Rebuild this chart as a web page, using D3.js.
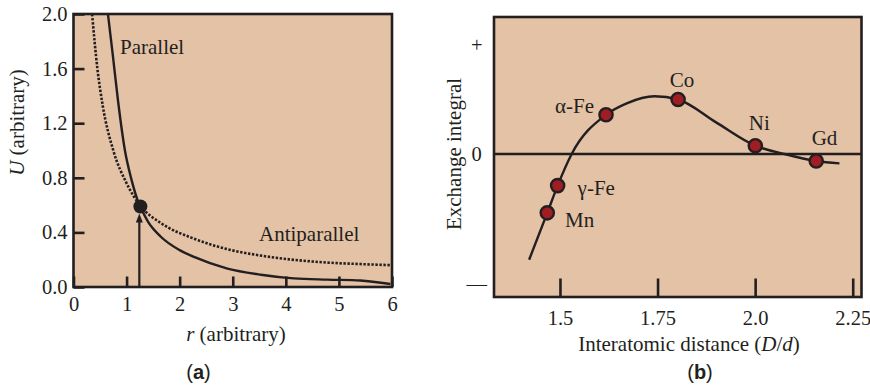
<!DOCTYPE html>
<html><head><meta charset="utf-8">
<script src="https://cdn.jsdelivr.net/npm/d3@7/dist/d3.min.js"></script>
<style>
html,body{margin:0;padding:0;background:#fff;}
svg{display:block;}
text{font-family:"Liberation Serif","Times New Roman",serif;fill:#231f20;}
</style></head>
<body>
<svg id="chart" width="870" height="388"></svg>
<script>
// ---------- Panel (a) data ----------
const aXTicks = [0, 1, 2, 3, 4, 5, 6];
const aYTicks = [0.0, 0.4, 0.8, 1.2, 1.6, 2.0];
const parallelR = [0.649, 0.74, 0.837, 0.969, 1.09, 1.207, 1.27, 1.40, 1.64, 2.00, 2.27, 2.90, 3.53, 4.15, 4.78, 5.40, 5.97];
const parallelU = [2.00, 1.70, 1.37, 1.00, 0.79, 0.637, 0.58, 0.48, 0.37, 0.27, 0.22, 0.135, 0.09, 0.063, 0.054, 0.048, 0.022];
const antiR = [0.35, 0.45, 0.55, 0.75, 1.00, 1.27, 1.64, 2.27, 2.90, 3.53, 4.15, 4.78, 5.40, 6.00];
const antiU = [2.00, 1.60, 1.33, 1.00, 0.76, 0.59, 0.47, 0.354, 0.277, 0.23, 0.199, 0.179, 0.168, 0.16];
const crossing = {r: 1.26, u: 0.59};
const arrowR = 1.24;

// ---------- Panel (b) data ----------
const bXTicks = [1.5, 1.75, 2.0, 2.25];
const bXTickLabels = ["1.5", "1.75", "2.0", "2.25"];
const bYTicks = [1, 0, -1.19];
const bYTickLabels = ["+", "0", "\u2014"];
const elements = ["Mn", "\u03b3-Fe", "\u03b1-Fe", "Co", "Ni", "Gd"];
const elemX = [1.4675, 1.494, 1.618, 1.8026, 2.0005, 2.1565];
const elemY = [-0.54, -0.29, 0.36, 0.50, 0.076, -0.064];
const curveX = [1.421, 1.4675, 1.494, 1.53, 1.618, 1.671, 1.742, 1.8026, 1.90, 2.0005, 2.075, 2.1565, 2.216];
const curveY = [-0.97, -0.54, -0.29, 0.0, 0.36, 0.465, 0.53, 0.50, 0.29, 0.076, 0.0, -0.064, -0.086];

// ---------- styles / layout ----------
const ink = "#231f20";
const panelFill = "#e3c2a5";
const dotFill = "#a11d24";
const svg = d3.select("#chart");

// ===== Panel (a) =====
const ax = d3.scaleLinear().domain([0, 6]).range([73.5, 392]);
const ay = d3.scaleLinear().domain([0, 2]).range([287, 14]);
const gA = svg.append("g");
gA.append("rect").attr("x", ax(0)).attr("y", ay(2)).attr("width", ax(6) - ax(0)).attr("height", ay(0) - ay(2))
  .attr("fill", panelFill);
gA.append("clipPath").attr("id", "clipA").append("rect")
  .attr("x", ax(0)).attr("y", ay(2)).attr("width", ax(6) - ax(0)).attr("height", ay(0) - ay(2));

const lineA = d3.line().x(d => ax(d[0])).y(d => ay(d[1])).curve(d3.curveMonotoneX);
const curves = gA.append("g").attr("clip-path", "url(#clipA)");
curves.append("path").datum(antiR.map((r, i) => [r, antiU[i]])).attr("d", lineA)
  .attr("fill", "none").attr("stroke", ink).attr("stroke-width", 2.6).attr("stroke-dasharray", "2.4,1.6");
curves.append("path").datum(parallelR.map((r, i) => [r, parallelU[i]])).attr("d", lineA)
  .attr("fill", "none").attr("stroke", ink).attr("stroke-width", 2.4);

// arrow
gA.append("line").attr("x1", ax(arrowR)).attr("x2", ax(arrowR)).attr("y1", ay(0)).attr("y2", ay(crossing.u) + 14)
  .attr("stroke", ink).attr("stroke-width", 2.2);
gA.append("path").attr("d", `M${ax(arrowR)},${ay(crossing.u) + 7} l-3.5,9 l7,0 z`).attr("fill", ink);
gA.append("circle").attr("cx", ax(crossing.r)).attr("cy", ay(crossing.u)).attr("r", 7).attr("fill", ink);

// axes (a)
const axisA = gA.append("g");
axisA.append("rect").attr("x", ax(0)).attr("y", ay(2)).attr("width", ax(6) - ax(0)).attr("height", ay(0) - ay(2))
  .attr("fill", "none").attr("stroke", ink).attr("stroke-width", 2.6);
const xAxisA = d3.axisBottom(ax).tickValues(aXTicks).tickSize(-10.5).tickPadding(14).tickFormat(d3.format("d"));
const gxA = axisA.append("g").attr("transform", `translate(0,${ay(0)})`).call(xAxisA);
const yAxisA = d3.axisLeft(ay).tickValues(aYTicks).tickSize(-11).tickPadding(8).tickFormat(d3.format(".1f"));
const gyA = axisA.append("g").attr("transform", `translate(${ax(0)},0)`).call(yAxisA);
[gxA, gyA].forEach(g => {
  g.select(".domain").remove();
  g.selectAll(".tick line").attr("stroke", ink).attr("stroke-width", 2.6);
  g.selectAll(".tick text").attr("font-size", 20.5).attr("font-family", "Liberation Serif").attr("fill", ink);
});
gxA.selectAll(".tick text").attr("dy", "0.71em").attr("y", 9);
gyA.selectAll(".tick text").attr("x", -6);

gA.append("text").attr("x", 120).attr("y", 54).attr("font-size", 21).text("Parallel");
gA.append("text").attr("x", 259).attr("y", 241).attr("font-size", 21).text("Antiparallel");
const rt = gA.append("text").attr("x", 236).attr("y", 340.5).attr("text-anchor", "middle").attr("font-size", 21);
rt.append("tspan").attr("font-style", "italic").text("r");
rt.append("tspan").text(" (arbitrary)");
const ut = gA.append("text").attr("transform", "translate(24,122.5) rotate(-90)").attr("text-anchor", "middle").attr("font-size", 21);
ut.append("tspan").attr("font-style", "italic").text("U");
ut.append("tspan").text(" (arbitrary)");
const la = gA.append("text").attr("x", 198.5).attr("y", 378.5).attr("text-anchor", "middle")
  .attr("font-size", 20).style("font-family", "'Liberation Sans',Arial,sans-serif");
la.append("tspan").text("(");
la.append("tspan").attr("font-weight", "bold").text("a");
la.append("tspan").text(")");

// ===== Panel (b) =====
const bx = d3.scaleLinear().domain([1.331, 2.2725]).range([494, 861.5]);
const by = d3.scaleLinear().domain([-1.312, 1.257]).range([297, 17]);
const gB = svg.append("g");
gB.append("rect").attr("x", bx.range()[0]).attr("y", by.range()[1]).attr("width", bx.range()[1] - bx.range()[0])
  .attr("height", by.range()[0] - by.range()[1]).attr("fill", panelFill);

// zero line
gB.append("line").attr("x1", bx.range()[0]).attr("x2", bx.range()[1]).attr("y1", by(0)).attr("y2", by(0))
  .attr("stroke", ink).attr("stroke-width", 2.6);

const lineB = d3.line().x((d, i) => bx(d)).y((d, i) => by(curveY[i])).curve(d3.curveMonotoneX);
gB.append("path").attr("d", lineB(curveX)).attr("fill", "none").attr("stroke", ink).attr("stroke-width", 2.4);

const labelOffsets = {"Mn": [17.7, 14, "start"], "\u03b3-Fe": [20, 9.7, "start"], "\u03b1-Fe": [-12, -1.7, "end"],
  "Co": [4, -12.7, "middle"], "Ni": [4, -15.7, "middle"], "Gd": [8.3, -15.5, "middle"]};
const pts = gB.append("g");
elements.forEach((name, i) => {
  const cx = bx(elemX[i]), cy = by(elemY[i]);
  pts.append("circle").attr("cx", cx).attr("cy", cy).attr("r", 6.6)
    .attr("fill", dotFill).attr("stroke", ink).attr("stroke-width", 2.4);
  const o = labelOffsets[name];
  pts.append("text").attr("x", cx + o[0]).attr("y", cy + o[1]).attr("text-anchor", o[2])
    .attr("font-size", 21).text(name);
});

// axes (b)
gB.append("rect").attr("x", bx.range()[0]).attr("y", by.range()[1]).attr("width", bx.range()[1] - bx.range()[0])
  .attr("height", by.range()[0] - by.range()[1]).attr("fill", "none").attr("stroke", ink).attr("stroke-width", 2.6);
const xAxisB = d3.axisBottom(bx).tickValues(bXTicks).tickSize(-18.5).tickPadding(0).tickFormat((d, i) => bXTickLabels[i]);
const gxB = gB.append("g").attr("transform", `translate(0,${by.range()[0]})`).call(xAxisB);
gxB.select(".domain").remove();
gxB.selectAll(".tick line").attr("stroke", ink).attr("stroke-width", 2.6);
gxB.selectAll(".tick text").attr("font-size", 20.5).attr("font-family", "Liberation Serif").attr("fill", ink)
  .attr("dy", null).attr("y", 28);

const yAxisB = d3.axisLeft(by).tickValues(bYTicks).tickSize(0).tickPadding(0).tickFormat((d, i) => bYTickLabels[i]);
const gyB = gB.append("g").attr("transform", `translate(${bx.range()[0]},0)`).call(yAxisB);
gyB.select(".domain").remove();
gyB.selectAll(".tick text").attr("font-size", 20.5).attr("font-family", "Liberation Serif").attr("fill", ink)
  .attr("text-anchor", "middle").attr("x", -17.3);

const et = gB.append("text").attr("transform", "translate(461,154) rotate(-90)").attr("text-anchor", "middle")
  .attr("font-size", 21).text("Exchange integral");
const it = gB.append("text").attr("x", 689).attr("y", 351).attr("text-anchor", "middle").attr("font-size", 21);
it.append("tspan").text("Interatomic distance (");
it.append("tspan").attr("font-style", "italic").text("D");
it.append("tspan").text("/");
it.append("tspan").attr("font-style", "italic").text("d");
it.append("tspan").text(")");
const lb = gB.append("text").attr("x", 700).attr("y", 379).attr("text-anchor", "middle")
  .attr("font-size", 20).style("font-family", "'Liberation Sans',Arial,sans-serif");
lb.append("tspan").text("(");
lb.append("tspan").attr("font-weight", "bold").text("b");
lb.append("tspan").text(")");
</script>
</body></html>
